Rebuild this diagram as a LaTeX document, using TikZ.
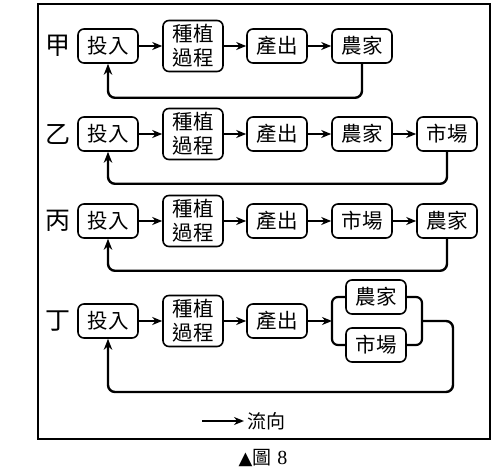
\documentclass[tikz,border=0pt]{standalone}
\usepackage{fontspec}
\setmainfont{Liberation Serif}
\newfontfamily\cjk{Noto Sans CJK TC}
\newfontfamily\sym{DejaVu Sans}
\usetikzlibrary{arrows.meta}
\begin{document}
\begin{tikzpicture}[x=1pt,y=-1pt,
  box/.style={draw, line width=1.6pt, rounded corners=6pt, minimum width=60pt, minimum height=34pt, inner sep=0pt, font=\cjk\fontsize{20.5}{24}\selectfont, align=center},
  tall/.style={box, minimum height=51pt},
  lbl/.style={font=\cjk\fontsize{25}{26}\selectfont, inner sep=0pt},
  flow/.style={line width=2.2pt, -{Stealth[length=10pt,width=8pt]}},
  plain/.style={line width=2.2pt, rounded corners=6pt},
  back/.style={line width=2.4pt, rounded corners=7pt, -{Stealth[length=11pt,width=8.5pt]}}]
\useasboundingbox (0,0) rectangle (501,470);
\draw[line width=1.8pt] (38,4) rectangle (490,439);
% Row 甲
\node[lbl] (la) at (58,46) {甲};
\node[box] (a1) at (108,46) {投入};
\node[tall] (a2) at (193,46) {種植\\過程};
\node[box] (a3) at (277,46) {產出};
\node[box] (a4) at (362,46) {農家};
\draw[flow] (a1) -- (a2);
\draw[flow] (a2) -- (a3);
\draw[flow] (a3) -- (a4);
\draw[back] (a4.south) -- ++(0,34) -| (a1.south);
% Row 乙
\node[lbl] (lb) at (58,134) {乙};
\node[box] (b1) at (108,134) {投入};
\node[tall] (b2) at (193,134) {種植\\過程};
\node[box] (b3) at (277,134) {產出};
\node[box] (b4) at (362,134) {農家};
\node[box] (b5) at (447,134) {市場};
\draw[flow] (b1) -- (b2);
\draw[flow] (b2) -- (b3);
\draw[flow] (b3) -- (b4);
\draw[flow] (b4) -- (b5);
\draw[back] (b5.south) -- ++(0,32) -| (b1.south);
% Row 丙
\node[lbl] (lc) at (58,221) {丙};
\node[box] (c1) at (108,221) {投入};
\node[tall] (c2) at (193,221) {種植\\過程};
\node[box] (c3) at (277,221) {產出};
\node[box] (c4) at (362,221) {市場};
\node[box] (c5) at (447,221) {農家};
\draw[flow] (c1) -- (c2);
\draw[flow] (c2) -- (c3);
\draw[flow] (c3) -- (c4);
\draw[flow] (c4) -- (c5);
\draw[back] (c5.south) -- ++(0,32) -| (c1.south);
% Row 丁
\node[lbl] (ld) at (58,321) {丁};
\node[box] (d1) at (108,321) {投入};
\node[tall] (d2) at (193,321) {種植\\過程};
\node[box] (d3) at (277,321) {產出};
\node[box] (d4) at (376,297) {農家};
\node[box] (d5) at (376,345) {市場};
\coordinate (jl) at (332,321);
\coordinate (jr) at (422,321);
\coordinate (dr) at (453,392);
\draw[flow] (d1) -- (d2);
\draw[flow] (d2) -- (d3);
\draw[flow] (d3) -- (jl);
\draw[plain] (d4.west) -| (jl) |- (d5.west);
\draw[plain] (d4.east) -| (jr) |- (d5.east);
\draw[back] (jr) -| (dr) -| (d1.south);
% Legend
\coordinate (lg1) at (202,421);
\coordinate (lg2) at (244,421);
\draw[flow] (lg1) -- (lg2);
\node[font=\cjk\fontsize{19}{20}\selectfont, anchor=west, inner sep=0pt] (lgt) at (247,421) {流向};
% Caption
\node[inner sep=0pt] (cap) at (263,458) {{\sym\fontsize{18}{18}\selectfont ▲}{\cjk\fontsize{19}{18}\selectfont 圖}\hspace{6pt}\fontsize{20}{18}\selectfont 8};
\end{tikzpicture}
\end{document}
